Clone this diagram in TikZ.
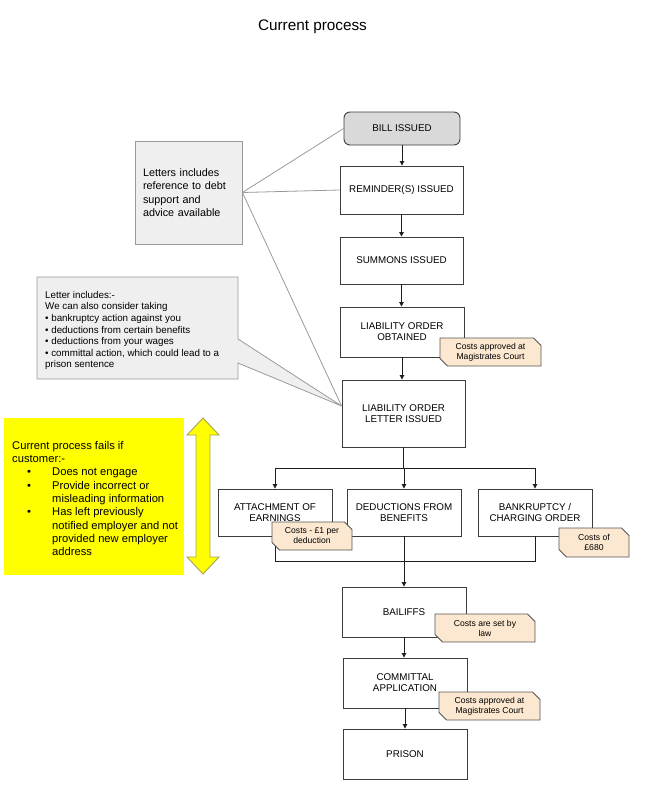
\documentclass[tikz,border=0pt]{standalone}
\usepackage{fontspec}
\setmainfont{Liberation Sans}
\usetikzlibrary{arrows.meta,shapes.misc,calc}
\definecolor{boxline}{HTML}{3C3C3C}
\definecolor{conncol}{HTML}{1E1E1E}
\definecolor{billfill}{HTML}{D9D9D9}
\definecolor{lettfill}{HTML}{EFEFEF}
\definecolor{lettline}{HTML}{9A9A9A}
\definecolor{notefill}{HTML}{FCE8D0}
\definecolor{noteline}{HTML}{555555}
\definecolor{yell}{HTML}{FFFF00}
\definecolor{arrline}{HTML}{A3A35A}
\newcommand\ybul{\makebox[40bp][l]{\hspace{15bp}\textbullet}}
\newcommand\yind{\hspace*{40bp}}
\begin{document}
\begin{tikzpicture}[x=1bp,y=-1bp,
  stepbox/.style={draw=boxline, fill=white, line width=0.9bp, align=center,
    font=\fontsize{9.8bp}{11bp}\selectfont, inner sep=1bp},
  notebox/.style={chamfered rectangle, chamfered rectangle corners={north east,south west},
    chamfered rectangle xsep=4bp, draw=noteline, fill=notefill, line width=0.8bp,
    align=center, font=\fontsize{8.6bp}{10bp}\selectfont, inner sep=1bp},
  lettbox/.style={draw=lettline, fill=lettfill, line width=0.8bp},
  callline/.style={draw=lettline, line width=0.8bp},
  conn/.style={draw=conncol, line width=0.9bp},
  arr/.style={conn, -{Triangle[length=4.5bp,width=4.5bp]}}
]
\useasboundingbox (0,0) rectangle (646,797);

% title
\node[font=\fontsize{15.3bp}{18bp}\selectfont] (title) at (312.5,26.5) {Current process};

% main steps
\node[stepbox, minimum width=116bp, minimum height=33bp, rounded corners=6bp, fill=billfill] (bill) at (402,128.5) {BILL ISSUED};
\node[stepbox, minimum width=123bp, minimum height=48bp] (rem) at (401.5,190) {REMINDER(S) ISSUED};
\node[stepbox, minimum width=123bp, minimum height=47bp] (summ) at (401.5,260.5) {SUMMONS ISSUED};
\node[stepbox, minimum width=124bp, minimum height=50bp] (lob) at (402,332) {LIABILITY ORDER\\OBTAINED};
\node[stepbox, minimum width=123bp, minimum height=67bp] (lol) at (403.5,413.5) {LIABILITY ORDER\\LETTER ISSUED};
\node[stepbox, minimum width=114bp, minimum height=47bp] (att) at (275,512.5) {ATTACHMENT OF\\EARNINGS};
\node[stepbox, minimum width=114bp, minimum height=47bp] (ded) at (404,512.5) {DEDUCTIONS FROM\\BENEFITS};
\node[stepbox, minimum width=114bp, minimum height=47bp] (bank) at (535,512.5) {BANKRUPTCY /\\CHARGING ORDER};
\node[stepbox, minimum width=124bp, minimum height=50bp] (bail) at (404,612) {BAILIFFS};
\node[stepbox, minimum width=124bp, minimum height=50bp] (comm) at (405,683) {COMMITTAL\\APPLICATION};
\node[stepbox, minimum width=124bp, minimum height=50bp] (prison) at (405,754) {PRISON};

% letter box 1 and its lines
\node[lettbox, minimum width=107bp, minimum height=103bp, text width=91bp, inner xsep=8bp, align=left,
  font=\fontsize{10.8bp}{13.3bp}\selectfont] (lb1) at (188.5,192.5)
  {Letters includes\\reference to debt\\support and\\advice available};
\coordinate (tip) at ([yshift=7.5bp]lol.west);
\draw[callline] (lb1.east) -- (bill.west);
\draw[callline] (lb1.east) -- (rem.west);
\draw[callline] (lb1.east) -- (tip);

% letter box 2 (callout)
\draw[lettbox, line join=miter] (37,277) -- (238,277) -- (238,339) -- (tip) -- (238,363) -- (238,379) -- (37,379) -- cycle;
\node[anchor=west, align=left, inner sep=0, font=\fontsize{9.8bp}{11.6bp}\selectfont] (lb2) at (45,330.5)
  {Letter includes:-\\We can also consider taking\\\textbullet{} bankruptcy action against you\\\textbullet{} deductions from certain benefits\\\textbullet{} deductions from your wages\\\textbullet{} committal action, which could lead to a\\prison sentence};

% yellow box
\node[fill=yell, minimum width=180bp, minimum height=157bp, inner sep=0] (fail) at (94,496.5) {};
\node[anchor=west, align=left, inner sep=0, font=\fontsize{11.2bp}{13.3bp}\selectfont] (failtxt) at (12,498.5)
  {Current process fails if\\customer:-\\\ybul Does not engage\\\ybul Provide incorrect or\\\yind misleading information\\\ybul Has left previously\\\yind notified employer and not\\\yind provided new employer\\\yind address};
\draw[draw=arrline, fill=yell, line width=0.9bp, line join=miter] (203,418) -- (219,435) -- (210,435) -- (210,557) -- (219,557) -- (203,574) -- (187,557) -- (196,557) -- (196,435) -- (187,435) -- cycle;

% connectors
\draw[arr] (bill.south) -- (bill.south |- rem.north);
\draw[arr] (rem.south) -- (rem.south |- summ.north);
\draw[arr] (summ.south) -- (summ.south |- lob.north);
\draw[arr] (lob.south) -- (lob.south |- lol.north);
\coordinate (bj) at ($(lol.south)!0.5!(lol.south |- ded.north)$);
\draw[conn] (lol.south) -- (bj);
\draw[arr] (bj) -| (att.north);
\draw[arr] (bj) -| (bank.north);
\draw[arr] (ded.north |- bj) -- (ded.north);
\coordinate (mj) at ($(ded.south)!0.5!(bail.north)$);
\draw[conn] (att.south) -- (att.south |- mj) -| (bank.south);
\draw[arr] (ded.south) -- (bail.north);
\draw[arr] (bail.south) -- (bail.south |- comm.north);
\draw[arr] (comm.south) -- (comm.south |- prison.north);

% cost notes
\node[notebox, minimum width=101bp, minimum height=28bp] (n1) at (490.5,352) {Costs approved at\\Magistrates Court};
\node[notebox, minimum width=80bp, minimum height=28bp] (n2) at (312,536) {Costs - £1 per\\deduction};
\node[notebox, minimum width=70bp, minimum height=29bp] (n3) at (594,542.5) {Costs of\\£680};
\node[notebox, minimum width=100bp, minimum height=28bp] (n4) at (485,628) {Costs are set by\\law};
\node[notebox, minimum width=101bp, minimum height=28bp] (n5) at (489.5,706) {Costs approved at\\Magistrates Court};
\end{tikzpicture}
\end{document}
